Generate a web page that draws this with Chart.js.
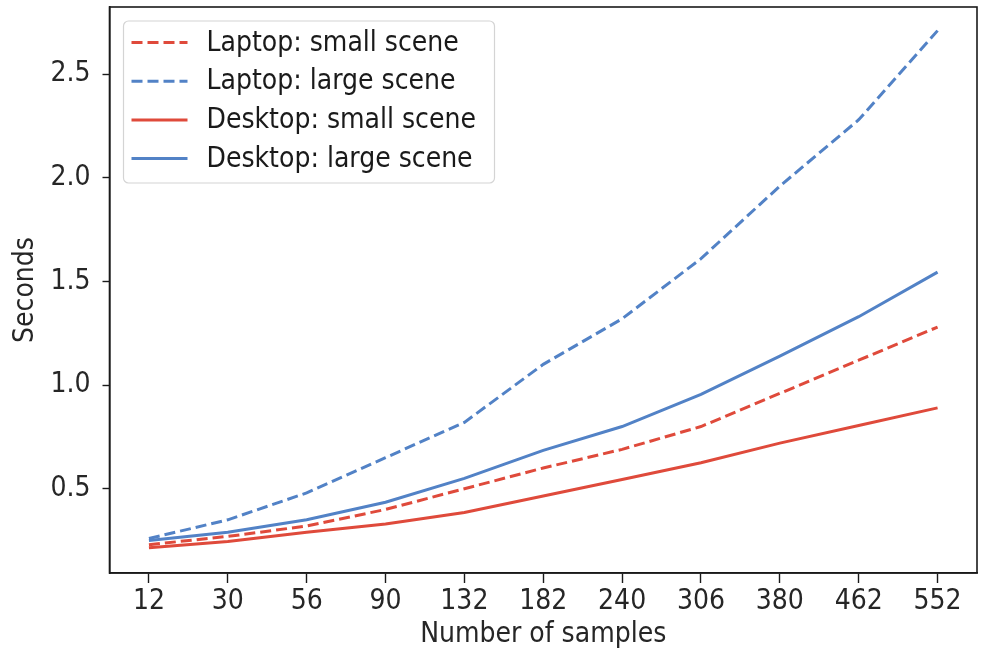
<!DOCTYPE html>
<html>
<head>
<meta charset="utf-8">
<script src="https://cdn.jsdelivr.net/npm/chart.js@4.4.1/dist/chart.umd.min.js"></script>
<style>
  html, body { margin: 0; padding: 0; background: #fff; }
  #wrap { width: 985px; height: 652px; }
</style>
</head>
<body>
<div id="wrap"><canvas id="c" width="985" height="652"></canvas></div>
<script>
// Sample counts on the x axis
const samples = ['12', '30', '56', '90', '132', '182', '240', '306', '380', '462', '552'];

// Render time in seconds
const laptopSmall  = [0.23, 0.27, 0.32, 0.40, 0.50, 0.60, 0.69, 0.80, 0.96, 1.12, 1.28];
const laptopLarge  = [0.26, 0.35, 0.48, 0.65, 0.82, 1.10, 1.32, 1.61, 1.96, 2.28, 2.71];
const desktopSmall = [0.215, 0.245, 0.29, 0.33, 0.385, 0.465, 0.545, 0.625, 0.72, 0.805, 0.89];
const desktopLarge = [0.25, 0.29, 0.35, 0.435, 0.55, 0.685, 0.80, 0.955, 1.14, 1.33, 1.545];

const yTicks = [0.5, 1.0, 1.5, 2.0, 2.5];

const RED = '#df4a3b';
const BLUE = '#5282c6';
const DASH = [11, 5];
const FONT = '"DejaVu Sans Condensed", "DejaVu Sans", sans-serif';
const FS = 28;

// Frame around the plotting area
const framePlugin = {
  id: 'frame',
  afterDraw(chart) {
    const { ctx, chartArea: a } = chart;
    ctx.save();
    ctx.strokeStyle = '#1a1a1a';
    ctx.lineWidth = 1.6;
    ctx.strokeRect(a.left, a.top, a.right - a.left, a.bottom - a.top);
    ctx.restore();
  }
};

// Boxed legend in the upper-left corner of the plot
const boxLegend = {
  id: 'boxLegend',
  afterDraw(chart) {
    const { ctx, chartArea: a } = chart;
    const x = a.left + 14, y = a.top + 14, w = 371, h = 162, r = 5;
    ctx.save();
    ctx.fillStyle = 'rgba(255,255,255,0.85)';
    ctx.strokeStyle = '#d4d4d4';
    ctx.lineWidth = 1.2;
    ctx.beginPath();
    ctx.moveTo(x + r, y);
    ctx.arcTo(x + w, y, x + w, y + h, r);
    ctx.arcTo(x + w, y + h, x, y + h, r);
    ctx.arcTo(x, y + h, x, y, r);
    ctx.arcTo(x, y, x + w, y, r);
    ctx.closePath();
    ctx.fill();
    ctx.stroke();
    ctx.font = FS + 'px ' + FONT;
    ctx.textBaseline = 'middle';
    chart.data.datasets.forEach((ds, i) => {
      const cy = y + 21.5 + i * 38.7;
      ctx.strokeStyle = ds.borderColor;
      ctx.lineWidth = ds.borderWidth;
      ctx.setLineDash(ds.borderDash || []);
      ctx.beginPath();
      ctx.moveTo(x + 8, cy);
      ctx.lineTo(x + 64, cy);
      ctx.stroke();
      ctx.setLineDash([]);
      ctx.fillStyle = '#1a1a1a';
      ctx.fillText(ds.label, x + 83, cy + 1);
    });
    ctx.restore();
  }
};

const series = [
  { label: 'Laptop: small scene',  data: laptopSmall,  color: RED,  dash: DASH },
  { label: 'Laptop: large scene',  data: laptopLarge,  color: BLUE, dash: DASH },
  { label: 'Desktop: small scene', data: desktopSmall, color: RED,  dash: [] },
  { label: 'Desktop: large scene', data: desktopLarge, color: BLUE, dash: [] }
];

new Chart(document.getElementById('c'), {
  type: 'line',
  data: {
    labels: samples,
    datasets: series.map(s => ({
      label: s.label,
      data: s.data,
      borderColor: s.color,
      backgroundColor: s.color,
      borderWidth: 3,
      borderDash: s.dash,
      borderCapStyle: 'butt',
      pointRadius: 0,
      tension: 0,
      fill: false
    }))
  },
  options: {
    responsive: false,
    animation: false,
    layout: { padding: { left: 0, top: 7, right: 8, bottom: 0 } },
    plugins: { legend: { display: false }, tooltip: { enabled: false } },
    scales: {
      x: {
        type: 'category',
        offset: true,
        afterFit(scale) {
          scale.height = 79;
          scale.paddingLeft = 0;
          scale.paddingRight = 0;
        },
        grid: { display: true, drawOnChartArea: false, drawTicks: true, tickLength: 10, tickWidth: 1.4, color: '#1a1a1a', offset: false },
        border: { display: true, color: '#1a1a1a', width: 1.6 },
        ticks: { color: '#262626', font: { family: FONT, size: FS }, padding: 2, maxRotation: 0, autoSkip: false },
        title: { display: true, text: 'Number of samples', color: '#262626', font: { family: FONT, size: FS }, padding: { top: 0, bottom: 0 } }
      },
      y: {
        type: 'linear',
        min: 0.0935,
        max: 2.824,
        afterFit(scale) {
          scale.width = 109.5;
          scale.paddingTop = 0;
          scale.paddingBottom = 0;
        },
        afterBuildTicks(scale) { scale.ticks = yTicks.map(v => ({ value: v })); },
        grid: { display: true, drawOnChartArea: false, drawTicks: true, tickLength: 7, tickWidth: 1.4, color: '#1a1a1a' },
        border: { display: true, color: '#1a1a1a', width: 1.6 },
        ticks: { color: '#262626', font: { family: FONT, size: FS }, padding: 12, callback: v => Number(v).toFixed(1) },
        title: { display: true, text: 'Seconds', color: '#262626', font: { family: FONT, size: FS }, padding: { top: 9, bottom: 0 } }
      }
    }
  },
  plugins: [framePlugin, boxLegend]
});
</script>
</body>
</html>
